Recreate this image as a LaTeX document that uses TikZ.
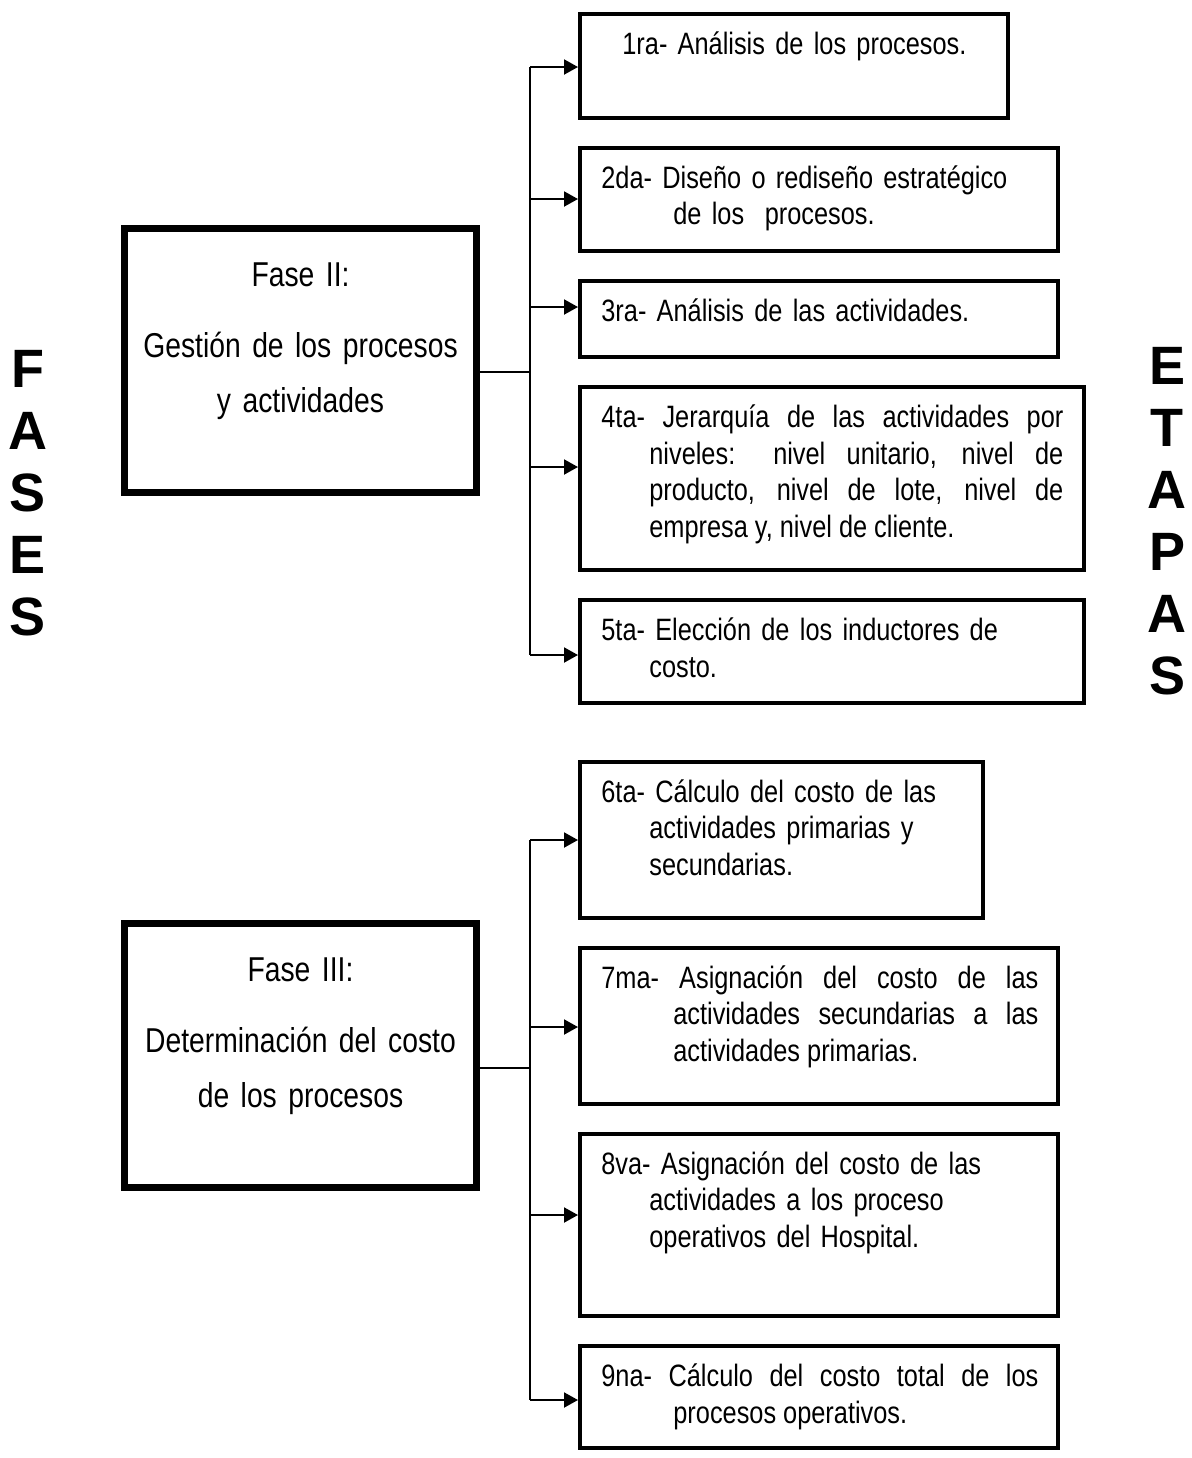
\documentclass[tikz,border=0pt]{standalone}
\usepackage{fontspec}
\setmainfont{Liberation Sans}
\newfontfamily\narrowfont[FakeStretch=0.82]{Liberation Sans}
\usetikzlibrary{arrows.meta, positioning}

\begin{document}
\begin{tikzpicture}[
    x=0.5pt, y=-0.5pt,
    node distance=13.3pt,
    fase/.style={rectangle, draw, line width=3.5pt, minimum width=176pt, minimum height=132pt, anchor=north west},
    etapabox/.style={rectangle, draw, line width=1.75pt, anchor=north west},
    fasetext/.style={anchor=base, inner sep=0pt, text width=180pt, align=center, font=\narrowfont\fontsize{17.25}{27.5}\selectfont},
    etapatext/.style={anchor=base west, inner sep=0pt, text width=#1, font=\narrowfont\fontsize{15.45}{18.35}\selectfont},
    side/.style={inner sep=0pt, align=center, font=\bfseries\fontsize{27}{31}\selectfont},
    arr/.style={-{Triangle[length=7pt, width=7.5pt]}, line width=1pt},
    bus/.style={line width=1pt},
]
\useasboundingbox (0,0) rectangle (1192,1458);

% Side titles
\node[side] (fases) at (28,493.5) {F\\A\\S\\E\\S};
\node[side] (etapas) at (1167,521.5) {E\\T\\A\\P\\A\\S};

% Phases
\node[fase] (f2) at (121,225) {};
\node[fase] (f3) at (121,920) {};
\node[fasetext] (f2t) at ([yshift=-30.5pt]f2.north) {Fase II:\\[8pt]Gestión de los procesos\\y actividades};
\node[fasetext] (f3t) at ([yshift=-30.5pt]f3.north) {Fase III:\\[8pt]Determinación del costo\\de los procesos};

% Stages, phase II
\node[etapabox, minimum width=214pt, minimum height=52pt] (b1) at (578,12) {};
\node[etapabox, minimum width=239pt, minimum height=51.5pt, below=of b1.south west, anchor=north west] (b2) {};
\node[etapabox, minimum width=239pt, minimum height=38pt, below=of b2.south west, anchor=north west] (b3) {};
\node[etapabox, minimum width=252pt, minimum height=91.5pt, below=of b3.south west, anchor=north west] (b4) {};
\node[etapabox, minimum width=252pt, minimum height=51.5pt, below=of b4.south west, anchor=north west] (b5) {};

% Stages, phase III
\node[etapabox, minimum width=201.5pt, minimum height=78pt] (b6) at (578,760) {};
\node[etapabox, minimum width=239pt, minimum height=78pt, below=of b6.south west, anchor=north west] (b7) {};
\node[etapabox, minimum width=239pt, minimum height=91pt, below=of b7.south west, anchor=north west] (b8) {};
\node[etapabox, minimum width=239pt, minimum height=51pt, below=of b8.south west, anchor=north west] (b9) {};

% Stage texts
\node[etapatext=193pt, align=center] (t1) at ([xshift=11.5pt, yshift=-21pt]b1.north west) {1ra- Análisis de los procesos.};
\node[etapatext=230pt, align=left] (t2) at ([xshift=11.5pt, yshift=-21pt]b2.north west) {\hangindent=36pt 2da- Diseño o rediseño estratégico\newline de los~ procesos.\par};
\node[etapatext=230pt, align=left] (t3) at ([xshift=11.5pt, yshift=-21pt]b3.north west) {3ra- Análisis de las actividades.};
\node[etapatext=231pt, align=justify] (t4) at ([xshift=11.5pt, yshift=-21pt]b4.north west) {\hangindent=24pt 4ta- Jerarquía de las actividades por\linebreak niveles: nivel unitario, nivel de\linebreak producto, nivel de lote, nivel de\linebreak empresa y, nivel de cliente.\par};
\node[etapatext=235pt, align=left] (t5) at ([xshift=11.5pt, yshift=-21pt]b5.north west) {\hangindent=24pt 5ta- Elección de los inductores de\newline costo.\par};
\node[etapatext=190pt, align=left] (t6) at ([xshift=11.5pt, yshift=-21pt]b6.north west) {\hangindent=24pt 6ta- Cálculo del costo de las\newline actividades primarias y\newline secundarias.\par};
\node[etapatext=218.5pt, align=justify] (t7) at ([xshift=11.5pt, yshift=-21pt]b7.north west) {\hangindent=36pt 7ma- Asignación del costo de las\linebreak actividades secundarias a las\linebreak actividades primarias.\par};
\node[etapatext=225pt, align=left] (t8) at ([xshift=11.5pt, yshift=-21pt]b8.north west) {\hangindent=24pt 8va- Asignación del costo de las\newline actividades a los proceso\newline operativos del Hospital.\par};
\node[etapatext=218.5pt, align=justify] (t9) at ([xshift=11.5pt, yshift=-21pt]b9.north west) {\hangindent=36pt 9na- Cálculo del costo total de los\linebreak procesos operativos.\par};

% Junctions
\coordinate (j1) at (530,67);
\coordinate (j2) at (530,199);
\coordinate (j3) at (530,307);
\coordinate (j4) at (530,467);
\coordinate (j5) at (530,655);
\coordinate (k2) at (530,372);
\coordinate (j6) at (530,840);
\coordinate (j7) at (530,1027);
\coordinate (j8) at (530,1215);
\coordinate (j9) at (530,1400);
\coordinate (k3) at (530,1068);

% Connectors
\draw[bus] (j1) -- (j5);
\draw[bus] (j6) -- (j9);
\draw[bus] (f2.east |- k2) -- (k2);
\draw[bus] (f3.east |- k3) -- (k3);
\foreach \n in {1,...,9}
    \draw[arr] (j\n) -- (j\n -| b\n.west);
\end{tikzpicture}
\end{document}
